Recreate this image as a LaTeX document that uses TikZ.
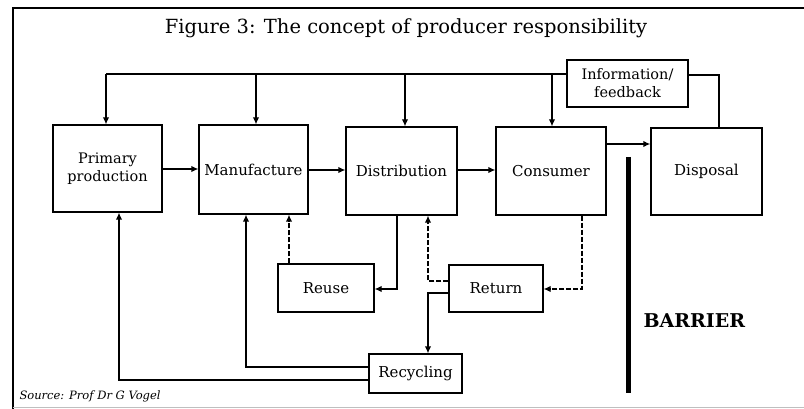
\documentclass[tikz,border=0pt]{standalone}
\usepackage{fontspec}
\setmainfont{DejaVu Serif}
\usetikzlibrary{arrows.meta}
\begin{document}
\begin{tikzpicture}[x=1pt,y=-1pt,
  box/.style={draw,line width=1.3pt,inner sep=0pt,font=\fontsize{15}{17}\selectfont},
  conn/.style={line width=1.3pt},
  arr/.style={conn,-{Latex[length=7pt,width=6.5pt]}},
  dsh/.style={dash pattern=on 5pt off 2pt}]
\useasboundingbox (0,0) rectangle (804,409);
% frame
\draw[line width=1.3pt] (13,409) -- (13,8) -- (804,8);
\draw[line width=0.8pt,black!25] (13,407) -- (804,407);
% title
\node (title) at (406,28) {\fontsize{19.5}{22}\selectfont Figure 3: The concept of producer responsibility};
% boxes
\node[box,minimum width=109pt,minimum height=87pt,align=center,font=\fontsize{14.5}{18}\selectfont] (prim) at (107.5,168.5) {Primary\\production};
\node[box,minimum width=109pt,minimum height=89pt] (manu) at (253.5,169.5) {Manufacture};
\node[box,minimum width=111pt,minimum height=88pt] (dist) at (401.5,171) {Distribution};
\node[box,minimum width=110pt,minimum height=88pt] (cons) at (551,171) {Consumer};
\node[box,minimum width=111pt,minimum height=87pt] (disp) at (706.5,171.5) {Disposal};
\node[box,minimum width=121pt,minimum height=47pt,align=center,font=\fontsize{14.5}{18}\selectfont] (info) at (627.5,83.5) {Information/\\feedback};
\node[box,minimum width=96pt,minimum height=48pt] (reuse) at (326,288) {Reuse};
\node[box,minimum width=94pt,minimum height=47pt] (ret) at (496,288.5) {Return};
\node[box,minimum width=93pt,minimum height=39pt] (recy) at (415.5,373.5) {Recycling};
% barrier
\coordinate (bt) at (628,157);
\coordinate (bb) at (628,393);
\draw[line width=5pt] (bt) -- (bb);
\node[font=\fontsize{19}{21}\selectfont\bfseries,anchor=west] (barrier) at (640,321) {BARRIER};
% source
\node[font=\fontsize{11.5}{13}\selectfont\itshape,anchor=west] (src) at (16,396) {Source: Prof Dr G Vogel};
% top feedback line
\coordinate (tl) at (106,74);
\draw[conn] (tl) -- (info.west |- tl);
\draw[arr] (tl) -- (prim.north -| tl);
\draw[arr] (256,74) -- (manu.north -| 256,0);
\draw[arr] (405,74) -- (dist.north -| 405,0);
\draw[arr] (552,74) -- (cons.north -| 552,0);
\draw[conn] (disp.north -| 719,0) -- (719,75) -- (info.east |- 0,75);
% main flow
\draw[arr] (prim.east |- 0,169) -- (manu.west |- 0,169);
\draw[arr] (manu.east |- 0,170) -- (dist.west |- 0,170);
\draw[arr] (dist.east |- 0,170) -- (cons.west |- 0,170);
\draw[arr,line width=2.2pt] (cons.east |- 0,144) -- (disp.west |- 0,144);
% reuse loop
\draw[arr] (dist.south -| 397,0) -- (397,289) -- (reuse.east |- 0,289);
\draw[arr,dsh] (reuse.north -| 289,0) -- (manu.south -| 289,0);
% return loop
\draw[arr,dsh] (cons.south -| 582,0) -- (582,289) -- (ret.east |- 0,289);
\draw[arr,dsh] (ret.west |- 0,281) -- (428,281) -- (dist.south -| 428,0);
\draw[arr] (ret.west |- 0,293) -- (428,293) -- (recy.north -| 428,0);
% recycling loop
\draw[arr] (recy.west |- 0,367) -- (246,367) -- (manu.south -| 246,0);
\draw[arr] (recy.west |- 0,380) -- (119,380) -- (prim.south -| 119,0);
\end{tikzpicture}
\end{document}
